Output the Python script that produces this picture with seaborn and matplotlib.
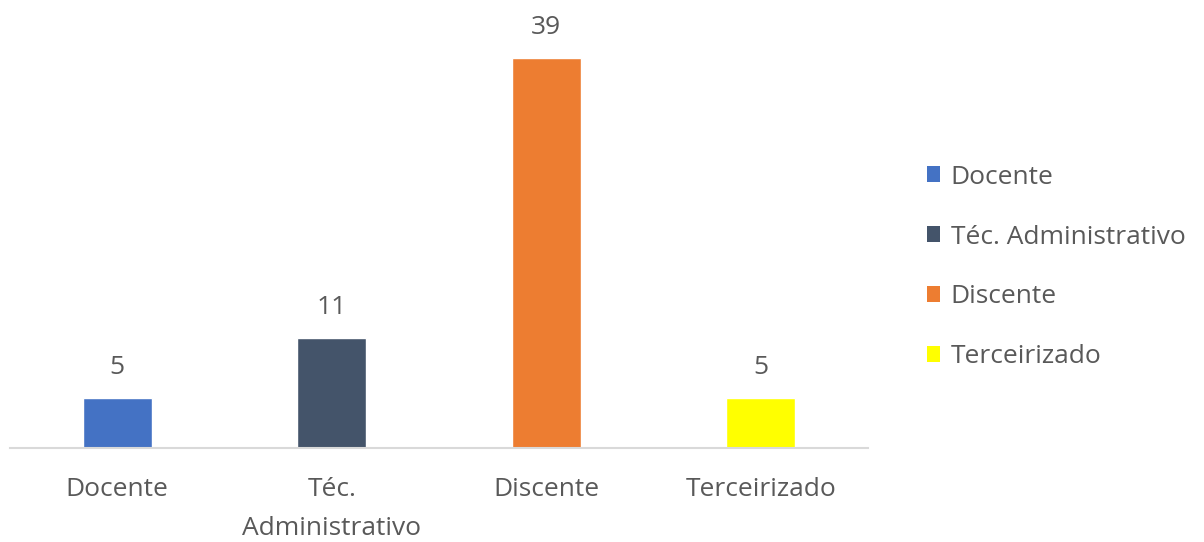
import matplotlib
matplotlib.use("Agg")
import matplotlib.pyplot as plt
import seaborn as sns
import pandas as pd
from matplotlib.patches import Patch

categories = ["Docente", "Téc. Administrativo", "Discente", "Terceirizado"]
tick_labels = ["Docente", "Téc.\nAdministrativo", "Discente", "Terceirizado"]
values = [5, 11, 39, 5]
colors = ["#4472C4", "#44546A", "#ED7D31", "#FFFF00"]

sns.set_theme(style="white")
plt.rcParams['font.family'] = ['Open Sans', 'DejaVu Sans']
text_color = "#595959"
fs = 19

df = pd.DataFrame({"cat": categories, "val": values})

fig = plt.figure(figsize=(12.04, 5.42), dpi=100)
ax = fig.add_axes([10/1204, (542-448)/542, 858/1204, 420/542])
sns.barplot(data=df, x="cat", y="val", hue="cat", palette=colors, width=0.32,
            dodge=False, legend=False, ax=ax, saturation=1)

ax.set_ylim(0, 42)
ax.set_xlim(-0.5, 3.5)
ax.set_yticks([])
ax.set_xlabel("")
ax.set_ylabel("")
ax.set_xticks(range(len(categories)))
ax.set_xticklabels(tick_labels, fontsize=fs, color=text_color, linespacing=1.75)
ax.tick_params(axis="x", length=0, pad=21)
for s in ["top", "right", "left"]:
    ax.spines[s].set_visible(False)
ax.spines["bottom"].set_color("#D9D9D9")
ax.spines["bottom"].set_linewidth(1.5)

for container in ax.containers:
    ax.bar_label(container, padding=13, fontsize=fs, color=text_color)

handles = [Patch(facecolor=c, edgecolor="none") for c in colors]
fig.legend(handles, categories, loc="center left", bbox_to_anchor=(927/1204, 275/542),
           frameon=False, fontsize=fs, labelcolor=text_color, handlelength=0.5,
           handleheight=0.55, handletextpad=0.4, labelspacing=1.32,
           borderpad=0, borderaxespad=0)

fig.savefig("out.png", dpi=100)
